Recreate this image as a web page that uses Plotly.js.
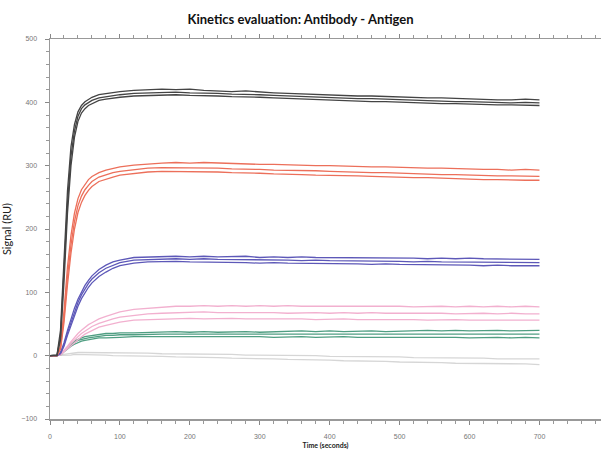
<!DOCTYPE html>
<html>
<head>
<meta charset="utf-8">
<script src="https://cdn.plot.ly/plotly-3.0.1.min.js"></script>
<style>html,body{margin:0;padding:0;background:#fff;overflow:hidden}#chart{width:601px;height:454px}</style>
</head>
<body>
<div id="chart"></div>
<script>
const time = [0,5,10,15,20,25,30,35,40,45,50,55,60,70,80,90,100,120,140,160,180,200,220,240,260,280,300,320,340,360,380,400,420,440,460,480,500,520,540,560,580,600,620,640,660,680,700];

const black1 = [0,0,1,40,150,260,330,365,385,395,401,405,408,412,414,416,417,419,420,421,420,421,419,418,417,418,416,415,414,413,413,412,411,410,410,409,408,408,407,407,406,405,405,404,404,405,404];
const black2 = [0,0,1,30,130,240,315,355,378,390,396,400,403,407,409,411,412,414,415,416,416,415,415,414,413,413,412,411,410,409,409,408,407,406,406,405,404,403,403,402,401,401,400,400,399,400,399];
const black3 = [0,0,0,25,115,225,300,345,370,383,390,395,398,403,405,407,408,410,411,412,412,411,411,410,409,409,408,407,406,405,405,404,403,402,401,401,400,399,399,398,398,397,397,396,396,396,395];

const red1 = [0,0,0,15,70,140,190,225,248,262,271,278,283,289,293,296,298,301,303,304,305,304,305,304,303,303,302,302,301,301,300,300,299,299,298,298,297,297,296,296,295,295,294,294,293,294,293];
const red2 = [0,0,0,12,60,125,175,212,237,252,262,269,275,282,286,289,291,294,296,297,297,297,296,296,295,295,294,293,293,292,292,291,290,290,289,289,288,287,287,286,286,285,285,284,284,284,283];
const red3 = [0,0,0,10,52,112,162,200,226,242,253,261,267,275,279,282,285,288,290,291,291,291,290,290,289,289,288,287,287,286,285,285,284,284,283,282,282,281,281,280,280,279,278,278,277,277,277];

const blue1 = [0,0,0,5,20,40,58,75,89,101,111,119,126,136,143,148,151,155,156,157,157,156,157,156,156,157,155,156,155,156,155,155,154,155,154,154,155,154,153,154,153,154,153,153,152,153,152];
const blue2 = [0,0,0,4,17,36,53,70,84,96,106,114,121,131,138,143,147,151,152,153,153,152,153,152,152,151,152,151,151,150,151,150,150,149,150,149,149,148,149,148,148,147,148,147,147,147,147];
const blue3 = [0,0,0,3,15,32,48,64,78,90,100,108,115,125,132,138,142,146,148,149,149,148,148,148,147,147,146,147,146,146,145,146,145,145,144,145,144,144,143,144,143,143,142,143,142,142,142];

const pink1 = [0,0,0,2,8,15,22,29,35,40,45,49,52,58,62,66,69,73,75,77,78,78,79,78,79,78,79,78,79,78,78,79,78,78,79,78,78,77,78,78,77,78,77,78,77,78,77];
const pink2 = [0,0,0,2,7,13,19,25,30,35,39,43,46,51,55,58,61,64,66,67,68,68,69,68,68,69,68,68,67,68,68,67,68,67,68,67,67,68,67,67,66,67,67,66,67,66,66];
const pink3 = [0,0,0,1,6,11,16,21,26,30,34,37,40,45,48,51,53,56,57,58,59,59,58,59,59,58,58,59,58,58,57,58,58,57,57,58,57,57,56,57,57,56,56,57,56,56,56];

const green1 = [0,0,0,2,8,14,19,23,26,28,30,31,32,34,35,35,36,36,37,37,38,37,38,37,38,38,37,38,38,39,38,39,38,39,39,38,39,39,40,39,40,39,40,40,39,40,40];
const green2 = [0,0,0,2,7,12,17,21,24,26,27,28,29,31,32,32,33,33,34,34,34,34,35,34,34,35,34,35,34,35,35,34,35,35,34,35,35,34,35,35,34,35,35,34,35,35,34];
const green3 = [0,0,0,1,6,11,15,18,21,23,24,25,26,28,28,29,29,30,30,30,31,30,30,31,30,30,30,29,30,30,29,30,30,29,29,30,29,29,30,29,29,28,29,29,28,29,28];

const gray1 = [0,0,0,1,2,3,4,4,5,5,5,5,5,5,4,5,4,4,4,3,3,3,2,2,2,1,1,1,0,0,0,-1,-1,-1,-2,-2,-2,-3,-3,-3,-4,-4,-4,-5,-5,-5,-5];
const gray2 = [0,0,0,0,1,1,1,2,2,2,2,2,1,1,1,0,0,0,-1,-1,-2,-2,-3,-3,-4,-4,-5,-5,-6,-6,-7,-7,-8,-8,-9,-9,-10,-10,-11,-11,-12,-12,-12,-13,-13,-13,-14];

const groups = [
  {color:'#d6d6d6', series:[gray1, gray2]},
  {color:'#4f9e82', series:[green1, green2, green3]},
  {color:'#f2b0cf', series:[pink1, pink2, pink3]},
  {color:'#5d58b8', series:[blue1, blue2, blue3]},
  {color:'#ec6f5a', series:[red1, red2, red3]},
  {color:'#444444', series:[black1, black2, black3]}
];

const traces = [];
groups.forEach(g => g.series.forEach(s => traces.push({
  x: time, y: s, type: 'scatter', mode: 'lines',
  line: {color: g.color, width: 1.3}, hoverinfo: 'skip'
})));

const axisCommon = {
  showgrid: false, zeroline: false, showline: true,
  linecolor: '#999', linewidth: 1.5,
  ticks: 'outside', ticklen: 4, tickcolor: '#888', tickwidth: 1,
  tickfont: {family: 'Arial, Liberation Sans, sans-serif', size: 7, color: '#777'},
  minor: {ticks: 'outside', ticklen: 3, tickcolor: '#999', dtick: 20, showgrid: false}
};

const layout = {
  width: 601, height: 454,
  margin: {l: 50, r: 0, t: 39, b: 35},
  paper_bgcolor: '#fff', plot_bgcolor: '#fff',
  showlegend: false,
  title: {text: '<b>Kinetics evaluation: Antibody - Antigen</b>',
    font: {family: 'Lato, Open Sans, sans-serif', size: 13, color: '#111'},
    x: 0.5, xanchor: 'center', y: 1 - 19/454, yanchor: 'middle'},
  xaxis: Object.assign({}, axisCommon, {
    mirror: 'ticks',
    range: [0, 788], tickvals: [0,100,200,300,400,500,600,700], ticklabelstandoff: 6,
    title: {text: '<b>Time (seconds)</b>', font: {family: 'Lato, Open Sans, sans-serif', size: 7, color: '#222'}, standoff: 4}
  }),
  yaxis: Object.assign({}, axisCommon, {
    mirror: false,
    range: [-100, 500], tickvals: [-100,0,100,200,300,400,500], ticklabelstandoff: 6,
    title: {text: 'Signal (RU)', font: {family: 'Lato, Open Sans, sans-serif', size: 11, color: '#222'}, standoff: 10}
  })
};

Plotly.newPlot('chart', traces, layout, {displayModeBar: false, staticPlot: true});
</script>
</body>
</html>
